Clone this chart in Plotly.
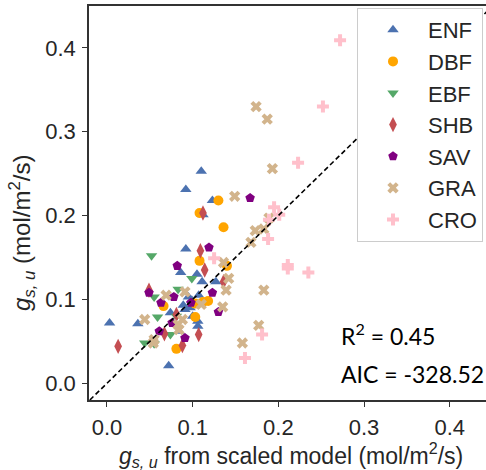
import plotly.graph_objects as go

# ---- data (x: g_s,u from scaled model, y: g_s,u) ----
enf_x = [0.110, 0.092, 0.123, 0.112, 0.092, 0.086, 0.105, 0.111, 0.127, 0.095, 0.107, 0.091, 0.097,
         0.074, 0.106, 0.106, 0.003, 0.036, 0.084, 0.072, 0.099, 0.089, 0.100]
enf_y = [0.253, 0.231, 0.218, 0.201, 0.160, 0.132, 0.130, 0.121, 0.121, 0.103, 0.105, 0.088, 0.090,
         0.084, 0.074, 0.068, 0.072, 0.071, 0.062, 0.021, 0.099, 0.093, 0.080]

dbf_x = [0.130, 0.108, 0.136, 0.108, 0.140, 0.066, 0.103, 0.112, 0.118, 0.103, 0.081]
dbf_y = [0.218, 0.203, 0.186, 0.146, 0.140, 0.092, 0.095, 0.097, 0.098, 0.079, 0.041]

ebf_x = [0.052, 0.099, 0.083, 0.055, 0.059, 0.074, 0.044, 0.055, 0.081]
ebf_y = [0.152, 0.125, 0.112, 0.103, 0.079, 0.058, 0.048, 0.047, 0.080]

shb_x = [0.112, 0.109, 0.114, 0.136, 0.049, 0.081, 0.067, 0.107, 0.088, 0.013]
shb_y = [0.203, 0.158, 0.135, 0.121, 0.111, 0.082, 0.059, 0.058, 0.045, 0.044]

sav_x = [0.167, 0.119, 0.082, 0.049, 0.078, 0.063, 0.098, 0.123, 0.130, 0.076, 0.061, 0.091]
sav_y = [0.221, 0.162, 0.140, 0.108, 0.103, 0.096, 0.096, 0.108, 0.085, 0.072, 0.062, 0.054]

gra_x = [0.174, 0.187, 0.193, 0.149, 0.189, 0.183, 0.173, 0.168, 0.136, 0.142, 0.139, 0.183,
         0.135, 0.110, 0.091, 0.069, 0.044, 0.083, 0.084, 0.088, 0.055, 0.054, 0.177, 0.158]
gra_y = [0.330, 0.315, 0.256, 0.223, 0.197, 0.184, 0.182, 0.168, 0.144, 0.125, 0.111, 0.111,
         0.091, 0.094, 0.109, 0.105, 0.076, 0.070, 0.064, 0.076, 0.052, 0.048, 0.069, 0.048]

cro_x = [0.272, 0.252, 0.223, 0.195, 0.201, 0.189, 0.188, 0.125, 0.211, 0.211, 0.235, 0.181, 0.161]
cro_y = [0.409, 0.330, 0.263, 0.210, 0.201, 0.195, 0.172, 0.149, 0.141, 0.137, 0.132, 0.058, 0.030]

names = ["ENF", "DBF", "EBF", "SHB", "SAV", "GRA", "CRO"]
xs = [enf_x, dbf_x, ebf_x, shb_x, sav_x, gra_x, cro_x]
ys = [enf_y, dbf_y, ebf_y, shb_y, sav_y, gra_y, cro_y]
colors = ["#4C72B0", "#FFA500", "#55A868", "#C44E52", "#800080", "#D2B48C", "#FFC0CB"]
symbols = ["triangle-up", "circle", "triangle-down", "diamond-tall", "pentagon", "x", "cross"]
sizes = [10, 10, 10, 11, 10, 10, 10]

axis_range = [-0.02, 0.45]
x_range = [-0.021, 0.4423]
tick_vals = [0.0, 0.1, 0.2, 0.3, 0.4]
tick_text = ["0.0", "0.1", "0.2", "0.3", "0.4"]
r2_text = "R<sup>2</sup> = 0.45"
aic_text = "AIC = -328.52"

fig = go.Figure()
for n, x, y, c, s, sz in zip(names, xs, ys, colors, symbols, sizes):
    fig.add_trace(go.Scatter(
        x=x, y=y, mode="markers", name=n, legendgroup=n,
        marker=dict(symbol=s, color=c, size=sz, line=dict(width=0)),
    ))

fig.add_trace(go.Scatter(
    x=axis_range, y=axis_range, mode="lines", showlegend=False,
    line=dict(color="black", width=1.6, dash="5px,3px"),
))

W, H = 486, 470
L, R, T, B = 89, 0, 6, 70
pw, ph = W - L - R, H - T - B

def px_x(p):
    return (p - L) / pw

def px_y(p):
    return (H - B - p) / ph

font_main = "Liberation Sans, Arial, sans-serif"
fig.update_layout(
    width=W, height=H,
    margin=dict(l=L, r=R, t=T, b=B, autoexpand=False),
    paper_bgcolor="white", plot_bgcolor="white",
    font=dict(family=font_main, color="#262626", size=22),
    xaxis=dict(range=x_range, tickvals=tick_vals, ticktext=tick_text,
               showline=True, linecolor="#333333", linewidth=1.5, mirror=True,
               ticks="outside", ticklen=5, tickwidth=1.2, tickcolor="#333333",
               ticklabelstandoff=2,
               showgrid=False, zeroline=False, tickfont=dict(size=22)),
    yaxis=dict(range=axis_range, tickvals=tick_vals, ticktext=tick_text,
               showline=True, linecolor="#333333", linewidth=1.5, mirror=False,
               ticks="outside", ticklen=5, tickwidth=1.2, tickcolor="#333333",
               ticklabelstandoff=2,
               showgrid=False, zeroline=False, tickfont=dict(size=22)),
    legend=dict(x=px_x(357), y=px_y(8), xanchor="left", yanchor="top",
                bgcolor="white", bordercolor="#cccccc", borderwidth=1,
                font=dict(size=22, color="#262626"), itemwidth=60,
                traceorder="grouped", tracegroupgap=0),
    showlegend=True,
)

fig.add_annotation(x=px_x(290.5), y=px_y(455), xref="paper", yref="paper",
                   text="<i>g</i><sub><i>s, u</i></sub> from scaled model (mol/m<sup>2</sup>/s)",
                   showarrow=False, font=dict(size=23), xanchor="center", yanchor="middle")
fig.add_annotation(x=px_x(22), y=px_y(233), xref="paper", yref="paper",
                   text="<i>g</i><sub><i>s, u</i></sub> (mol/m<sup>2</sup>/s)", textangle=-90,
                   showarrow=False, font=dict(size=24), xanchor="center", yanchor="middle")
fig.add_annotation(x=px_x(339), y=px_y(334), xref="paper", yref="paper", text=r2_text,
                   showarrow=False, font=dict(size=23, family="Lato, sans-serif", color="black"),
                   xanchor="left", yanchor="middle")
fig.add_annotation(x=px_x(339), y=px_y(374), xref="paper", yref="paper", text=aic_text,
                   showarrow=False, font=dict(size=23, family="Lato, sans-serif", color="black"),
                   xanchor="left", yanchor="middle")

fig.write_html("out.html", config={"displayModeBar": False},
               post_script="document.body.style.margin='0';document.body.style.overflow='hidden';")
